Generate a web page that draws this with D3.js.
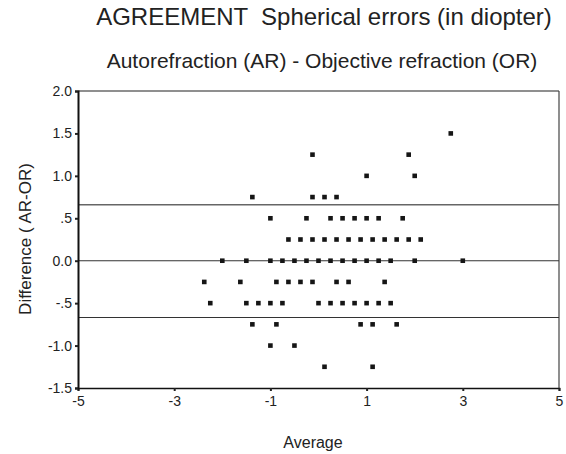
<!DOCTYPE html>
<html>
<head>
<meta charset="utf-8">
<script src="https://cdn.jsdelivr.net/npm/d3@7"></script>
<style>
body { margin: 0; background: #fff; }
text { font-family: "Liberation Sans", Arial, sans-serif; fill: #222; }
</style>
</head>
<body>
<svg class="agree" width="566" height="454"></svg>
<script>
// Bland-Altman points: average of AR and OR vs. difference AR-OR
var avg = [
	2.75,
	-0.125, 1.875,
	1.0, 2.0,
	-1.375, -0.125, 0.125, 0.375,
	-1.0, -0.25, 0.25, 0.5, 0.75, 1.0, 1.25, 1.75,
	-0.625, -0.375, -0.125, 0.125, 0.375, 0.625, 0.875, 1.125, 1.375, 1.625, 1.875, 2.125,
	-2.0, -1.5, -1.0, -0.75, -0.5, -0.25, 0, 0.25, 0.5, 0.75, 1.0, 1.25, 1.5, 2.0, 3.0,
	-2.375, -1.625, -0.875, -0.625, -0.375, -0.125, 0.375, 0.625, 1.375,
	-2.25, -1.5, -1.25, -1.0, -0.75, 0, 0.25, 0.5, 0.75, 1.0, 1.25, 1.5,
	-1.375, -0.875, 0.875, 1.125, 1.625,
	-1.0, -0.5,
	0.125, 1.125
];
var diff = [
	1.5,
	1.25, 1.25,
	1.0, 1.0,
	0.75, 0.75, 0.75, 0.75,
	0.5, 0.5, 0.5, 0.5, 0.5, 0.5, 0.5, 0.5,
	0.25, 0.25, 0.25, 0.25, 0.25, 0.25, 0.25, 0.25, 0.25, 0.25, 0.25, 0.25,
	0, 0, 0, 0, 0, 0, 0, 0, 0, 0, 0, 0, 0, 0, 0,
	-0.25, -0.25, -0.25, -0.25, -0.25, -0.25, -0.25, -0.25, -0.25,
	-0.5, -0.5, -0.5, -0.5, -0.5, -0.5, -0.5, -0.5, -0.5, -0.5, -0.5, -0.5,
	-0.75, -0.75, -0.75, -0.75, -0.75,
	-1.0, -1.0,
	-1.25, -1.25
];
var meanDiff = 0.0,
	upperLimit = 0.66,
	lowerLimit = -0.67;
var xTicks = [-5, -3, -1, 1, 3, 5],
	xTickLabels = ["-5", "-3", "-1", "1", "3", "5"],
	yTicks = [2.0, 1.5, 1.0, 0.5, 0.0, -0.5, -1.0, -1.5],
	yTickLabels = ["2.0", "1.5", "1.0", ".5", "0.0", "-.5", "-1.0", "-1.5"];

var svg = d3.select(".agree");
var x = d3.scaleLinear().domain([-5, 5]).range([78, 559]);
var y = d3.scaleLinear().domain([-1.5, 2]).range([388, 91]);

// frame top and right
svg.append("line")
	.attr("x1", x(-5)).attr("x2", x(5))
	.attr("y1", y(2)).attr("y2", y(2))
	.attr("stroke", "#6a6a6a").attr("stroke-width", 1.4);
svg.append("line")
	.attr("x1", x(5)).attr("x2", x(5))
	.attr("y1", y(2)).attr("y2", y(-1.5))
	.attr("stroke", "#444").attr("stroke-width", 1.2);

// reference lines (limits of agreement and mean)
[upperLimit, meanDiff, lowerLimit].forEach(function(v, i) {
	svg.append("line")
		.attr("x1", x(-5)).attr("x2", x(5))
		.attr("y1", y(v)).attr("y2", y(v))
		.attr("stroke", i == 0 ? "#666" : "#333")
		.attr("stroke-width", i == 0 ? 1.4 : 1.1);
});

var bot = svg.append("g")
	.attr("transform", "translate(0," + y(-1.5) + ")")
	.call(d3.axisBottom(x).tickValues(xTicks).tickSize(3).tickPadding(5)
		.tickFormat(function(d, i) { return xTickLabels[i]; }));
bot.select(".domain").attr("stroke", "#111").attr("stroke-width", 1.6);
bot.selectAll(".tick line").attr("stroke", "#222").attr("stroke-width", 2);
bot.selectAll("text").style("font-size", "14px").attr("fill", "#222");

var left = svg.append("g")
	.attr("transform", "translate(" + x(-5) + ",0)")
	.call(d3.axisLeft(y).tickValues(yTicks).tickSize(3).tickPadding(3)
		.tickFormat(function(d, i) { return yTickLabels[i]; }));
left.select(".domain").attr("stroke", "#111").attr("stroke-width", 2);
left.selectAll(".tick line").attr("stroke", "#222").attr("stroke-width", 2);
left.selectAll("text").style("font-size", "14px").attr("fill", "#222");

// points
svg.append("g").selectAll("rect")
	.data(avg)
	.enter().append("rect")
	.attr("x", function(d) { return x(d) - 2.3; })
	.attr("y", function(d, i) { return y(diff[i]) - 2.3; })
	.attr("width", 4.6)
	.attr("height", 4.6)
	.attr("fill", "#151515");

svg.append("text")
	.attr("x", 324).attr("y", 25)
	.attr("text-anchor", "middle")
	.style("font-size", "24px")
	.style("white-space", "pre")
	.text("AGREEMENT  Spherical errors (in diopter)");
svg.append("text")
	.attr("x", 322).attr("y", 68)
	.attr("text-anchor", "middle")
	.style("font-size", "21px")
	.text("Autorefraction (AR) - Objective refraction (OR)");
svg.append("text")
	.attr("transform", "translate(31,239) rotate(-90)")
	.attr("text-anchor", "middle")
	.style("font-size", "17px")
	.text("Difference ( AR-OR)");
svg.append("text")
	.attr("x", 313).attr("y", 448)
	.attr("text-anchor", "middle")
	.style("font-size", "16px")
	.text("Average");
</script>
</body>
</html>
